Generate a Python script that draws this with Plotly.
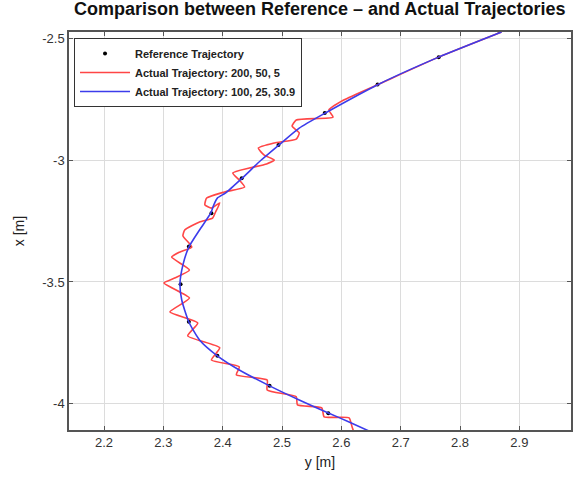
import plotly.graph_objects as go

# Reference trajectory samples (y [m], x [m])
ref_y = [2.866, 2.764, 2.661, 2.572, 2.494, 2.432, 2.381, 2.343, 2.329, 2.343, 2.391, 2.479, 2.578]
ref_x = [-2.471, -2.579, -2.690, -2.807, -2.938, -3.075, -3.218, -3.355, -3.509, -3.663, -3.803, -3.926, -4.038]

# Actual trajectory, gains 200, 50, 5 (red)
red_y = [2.870, 2.764, 2.663, 2.604, 2.579, 2.586, 2.524, 2.517, 2.529, 2.524, 2.487, 2.460,
         2.470, 2.487, 2.474, 2.445, 2.417, 2.428, 2.437, 2.403, 2.373, 2.370, 2.381, 2.395,
         2.388, 2.383, 2.361, 2.336, 2.333, 2.348, 2.328, 2.314, 2.344, 2.319, 2.301, 2.344,
         2.311, 2.358, 2.341, 2.395, 2.381, 2.428, 2.423, 2.475, 2.475, 2.524, 2.526, 2.567,
         2.571, 2.613, 2.618, 2.621]
red_x = [-2.475, -2.578, -2.689, -2.754, -2.795, -2.824, -2.836, -2.861, -2.889, -2.914, -2.930, -2.951,
         -2.980, -3.000, -3.016, -3.033, -3.053, -3.082, -3.111, -3.131, -3.156, -3.184, -3.197, -3.176,
         -3.213, -3.238, -3.254, -3.287, -3.311, -3.357, -3.377, -3.398, -3.451, -3.484, -3.504, -3.566,
         -3.623, -3.668, -3.721, -3.770, -3.820, -3.848, -3.881, -3.902, -3.943, -3.971, -4.004, -4.016,
         -4.053, -4.057, -4.094, -4.115]

# Actual trajectory, gains 100, 25, 30.9 (blue)
blue_y = [2.870, 2.764, 2.663, 2.573, 2.529, 2.495, 2.465, 2.433, 2.405, 2.391, 2.385, 2.380, 2.361,
          2.343, 2.333, 2.328, 2.331, 2.343, 2.361, 2.391, 2.428, 2.479, 2.529, 2.578, 2.613, 2.650]
blue_x = [-2.475, -2.578, -2.689, -2.807, -2.869, -2.938, -3.000, -3.074, -3.135, -3.156, -3.184, -3.217, -3.287,
          -3.357, -3.430, -3.508, -3.574, -3.664, -3.738, -3.803, -3.861, -3.926, -3.984, -4.037, -4.074, -4.115]

x_ticks = [2.2, 2.3, 2.4, 2.5, 2.6, 2.7, 2.8, 2.9]
y_ticks = [-4, -3.5, -3, -2.5]

FONT = "Liberation Sans, Arial, sans-serif"

fig = go.Figure()
fig.add_trace(go.Scatter(x=ref_y, y=ref_x, mode="markers", name="<b>Reference Trajectory</b>",
                         marker=dict(color="black", size=4)))
fig.add_trace(go.Scatter(x=red_y, y=red_x, mode="lines", name="<b>Actual Trajectory: 200, 50, 5</b>",
                         line=dict(color="rgb(255,70,70)", width=1.6, shape="spline", smoothing=0.5)))
fig.add_trace(go.Scatter(x=blue_y, y=blue_x, mode="lines", name="<b>Actual Trajectory: 100, 25, 30.9</b>",
                         line=dict(color="rgb(60,60,235)", width=1.6, shape="spline", smoothing=0.6)))

axis_common = dict(showgrid=True, gridcolor="#dcdcdc", gridwidth=1, zeroline=False,
                   showline=True, linecolor="#555555", linewidth=1.5, mirror="allticks",
                   ticks="inside", ticklen=4, tickcolor="#555555",
                   tickfont=dict(family=FONT, size=13, color="#333333"))

fig.update_layout(
    width=576, height=481,
    margin=dict(l=69, r=3, t=32, b=51),
    paper_bgcolor="white", plot_bgcolor="white",
    title=dict(text="<b>Comparison between Reference – and Actual Trajectories</b>",
               x=0.555, xanchor="center", y=0.995, yanchor="top",
               font=dict(family=FONT, size=18, color="#111111")),
    xaxis=dict(range=[2.141, 2.987], tickvals=x_ticks, ticktext=[str(v) for v in x_ticks],
               title=dict(text="y [m]", font=dict(family=FONT, size=14, color="#222222"), standoff=8),
               **axis_common),
    yaxis=dict(range=[-4.107, -2.475], tickvals=y_ticks, ticktext=[("%g" % v) for v in y_ticks],
               title=dict(text="x [m]", font=dict(family=FONT, size=14, color="#222222"), standoff=14),
               **axis_common),
    legend=dict(x=0.01, y=0.985, xanchor="left", yanchor="top", bgcolor="white",
                bordercolor="#333333", borderwidth=1,
                font=dict(family=FONT, size=11, color="#222222"),
                itemwidth=50, tracegroupgap=2),
    showlegend=True,
)

fig.write_html("out.html")
